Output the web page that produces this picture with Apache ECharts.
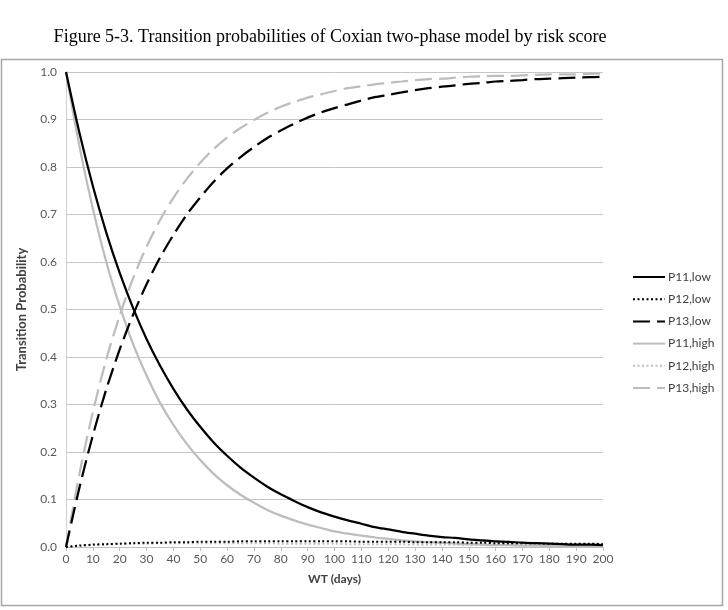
<!DOCTYPE html>
<html>
<head>
<meta charset="utf-8">
<script src="https://cdn.jsdelivr.net/npm/echarts@6/dist/echarts.min.js"></script>
<style>
  html, body { margin: 0; padding: 0; background: #fff; }
  #chart { width: 728px; height: 610px; }
</style>
</head>
<body>
<div id="chart"></div>
<script>
// WT (days), every 5 days
const days = [0, 5, 10, 15, 20, 25, 30, 35, 40, 45, 50, 55, 60, 65, 70, 75, 80, 85, 90, 95, 100,
  105, 110, 115, 120, 125, 130, 135, 140, 145, 150, 155, 160, 165, 170, 175, 180, 185, 190, 195, 200];

const p11Low = [1.000, 0.872, 0.760, 0.662, 0.577, 0.503, 0.438, 0.382, 0.333, 0.290, 0.253,
  0.220, 0.192, 0.167, 0.146, 0.127, 0.111, 0.097, 0.084, 0.073, 0.064,
  0.056, 0.049, 0.042, 0.037, 0.032, 0.028, 0.024, 0.021, 0.019, 0.016,
  0.014, 0.012, 0.011, 0.009, 0.008, 0.007, 0.006, 0.005, 0.005, 0.004];
const p12Low = [0.000, 0.003, 0.005, 0.006, 0.007, 0.008, 0.009, 0.009, 0.010, 0.010, 0.011,
  0.011, 0.011, 0.012, 0.012, 0.012, 0.012, 0.012, 0.012, 0.012, 0.012,
  0.012, 0.011, 0.011, 0.011, 0.011, 0.010, 0.010, 0.010, 0.010, 0.009,
  0.009, 0.008, 0.008, 0.008, 0.008, 0.007, 0.007, 0.007, 0.007, 0.006];
const p13Low = [0.000, 0.125, 0.235, 0.332, 0.416, 0.489, 0.553, 0.609, 0.657, 0.700, 0.736,
  0.769, 0.797, 0.821, 0.842, 0.861, 0.877, 0.891, 0.904, 0.915, 0.924,
  0.932, 0.940, 0.947, 0.952, 0.957, 0.962, 0.966, 0.969, 0.972, 0.975,
  0.977, 0.980, 0.981, 0.983, 0.985, 0.986, 0.987, 0.988, 0.989, 0.990];
const p11High = [1.000, 0.844, 0.712, 0.600, 0.507, 0.427, 0.361, 0.304, 0.257, 0.217, 0.183,
  0.154, 0.130, 0.110, 0.093, 0.078, 0.066, 0.056, 0.047, 0.040, 0.033,
  0.028, 0.024, 0.020, 0.017, 0.014, 0.012, 0.010, 0.009, 0.007, 0.006,
  0.005, 0.004, 0.004, 0.003, 0.003, 0.002, 0.002, 0.002, 0.001, 0.001];
const p12High = [0.000, 0.002, 0.004, 0.005, 0.006, 0.007, 0.007, 0.008, 0.008, 0.008, 0.008,
  0.008, 0.008, 0.008, 0.008, 0.008, 0.007, 0.007, 0.007, 0.007, 0.007,
  0.006, 0.006, 0.006, 0.006, 0.006, 0.005, 0.005, 0.005, 0.005, 0.004,
  0.004, 0.004, 0.004, 0.004, 0.003, 0.003, 0.003, 0.003, 0.003, 0.002];
const p13High = [0.000, 0.154, 0.284, 0.395, 0.487, 0.566, 0.632, 0.688, 0.735, 0.775, 0.809,
  0.838, 0.862, 0.882, 0.899, 0.914, 0.927, 0.937, 0.946, 0.953, 0.960,
  0.966, 0.970, 0.974, 0.977, 0.980, 0.983, 0.985, 0.986, 0.988, 0.990,
  0.991, 0.992, 0.992, 0.993, 0.994, 0.995, 0.995, 0.995, 0.996, 0.997];

const seriesNames = ["P11,low", "P12,low", "P13,low", "P11,high", "P12,high", "P13,high"];

const BLACK = "#000000";
const GRAY = "#bdbdbd";
const FONT = "Lato, 'Liberation Sans', sans-serif";

function pairs(values) {
  return days.map((d, i) => [d, values[i]]);
}

function line(name, values, color, type, width) {
  return {
    name,
    type: "line",
    data: pairs(values),
    smooth: 0.3,
    symbol: "none",
    lineStyle: { color, type, width, cap: "butt" },
    itemStyle: { color },
    emphasis: { disabled: true },
    z: color === BLACK ? 3 : 2,
  };
}

const chart = echarts.init(document.getElementById("chart"), null, { renderer: "canvas" });

chart.setOption({
  backgroundColor: "#fff",
  animation: false,
  title: {
    text: "Figure 5-3. Transition probabilities of Coxian two-phase model by risk score",
    left: 325,
    textAlign: "center",
    top: 23,
    textStyle: { fontFamily: "'Liberation Serif', 'Times New Roman', serif", fontSize: 18, fontWeight: "normal", color: "#000" },
  },
  graphic: [
    {
      type: "rect",
      shape: { x: 1.5, y: 59.5, width: 721, height: 546 },
      style: { fill: "none", stroke: "#a6a6a6", lineWidth: 1.5 },
      silent: true,
      z: -1,
    },
  ],
  legend: {
    orient: "vertical",
    left: 627,
    top: 266,
    itemWidth: 32,
    itemHeight: 14,
    itemGap: 10.2,
    data: seriesNames,
    itemStyle: { opacity: 0 },
    textStyle: { fontFamily: FONT, fontSize: 12, color: "#404040", padding: [0, 0, 0, -2] },
  },
  grid: { left: 66, right: 125, top: 72, bottom: 63 },
  xAxis: {
    type: "value",
    min: 0,
    max: 200,
    interval: 10,
    name: "WT (days)",
    nameLocation: "middle",
    nameGap: 26,
    nameTextStyle: { fontFamily: FONT, fontSize: 12, fontWeight: "bold", color: "#404040" },
    axisLine: { show: true, lineStyle: { color: "#bfbfbf", width: 1 } },
    axisTick: { show: true, length: 4, lineStyle: { color: "#bfbfbf" } },
    axisLabel: { fontFamily: FONT, fontSize: 12, color: "#595959", margin: 6 },
    splitLine: { show: false },
  },
  yAxis: {
    type: "value",
    min: 0,
    max: 1,
    interval: 0.1,
    name: "Transition Probability",
    nameLocation: "middle",
    nameGap: 38,
    nameTextStyle: { fontFamily: FONT, fontSize: 13, fontWeight: "bold", color: "#404040" },
    axisLine: { show: true, lineStyle: { color: "#d0d0d0", width: 1 } },
    axisTick: { show: false },
    axisLabel: { fontFamily: FONT, fontSize: 12, color: "#595959", margin: 9, formatter: (v) => v.toFixed(1) },
    splitLine: { lineStyle: { color: "#c6c6c6", width: 1 } },
  },
  series: [
    line("P11,low", p11Low, BLACK, "solid", 2.25),
    line("P12,low", p12Low, BLACK, [2, 2.5], 2),
    line("P13,low", p13Low, BLACK, [17, 7], 2.25),
    line("P11,high", p11High, GRAY, "solid", 2.25),
    line("P12,high", p12High, GRAY, [2, 2.5], 2),
    line("P13,high", p13High, GRAY, [17, 7], 2.25),
  ],
});
</script>
</body>
</html>
